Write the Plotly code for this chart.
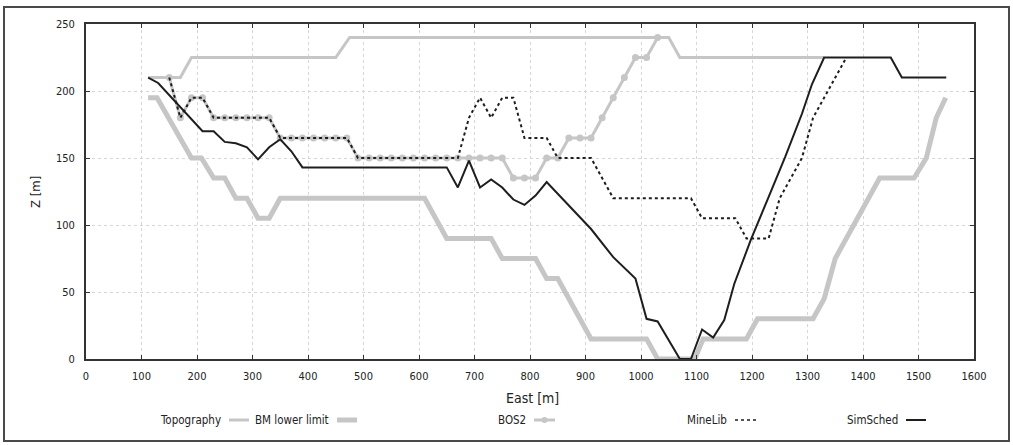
import plotly.graph_objects as go

# ---------------- data ----------------
topo_x = [112, 170, 190, 450, 475, 1050, 1070, 1330]
topo_z = [210, 210, 225, 225, 240, 240, 225, 225]

bm_x = [112, 128, 190, 208, 230, 250, 270, 290, 310, 330, 350, 610, 650, 730, 750, 810,
        830, 850, 910, 1010, 1030, 1097, 1112, 1190, 1210, 1310, 1330, 1350, 1430, 1492,
        1514, 1532, 1549]
bm_z = [195, 195, 150, 150, 135, 135, 120, 120, 105, 105, 120, 120, 90, 90, 75, 75,
        60, 60, 15, 15, 0, 0, 15, 15, 30, 30, 45, 75, 135, 135,
        150, 180, 195]

bos2_x = [150, 170, 190, 210, 230, 250, 270, 290, 310, 330, 350, 370, 390, 410, 430, 450,
          470, 490, 510, 530, 550, 570, 590, 610, 630, 650, 670, 690, 710, 730, 750,
          770, 790, 810, 830, 850, 870, 890, 910, 930, 950, 970, 990, 1010, 1030]
bos2_z = [210, 180, 195, 195, 180, 180, 180, 180, 180, 180, 165, 165, 165, 165, 165, 165,
          165, 150, 150, 150, 150, 150, 150, 150, 150, 150, 150, 150, 150, 150, 150,
          135, 135, 135, 150, 150, 165, 165, 165, 180, 195, 210, 225, 225, 240]

minelib_x = [150, 170, 190, 210, 230, 330, 350, 470, 490, 670, 690, 710, 730, 750, 770,
             790, 830, 850, 910, 950, 1090, 1110, 1170, 1190, 1230, 1250, 1270, 1290,
             1310, 1330, 1350, 1370]
minelib_z = [210, 180, 195, 195, 180, 180, 165, 165, 150, 150, 180, 195, 180, 195, 195,
             165, 165, 150, 150, 120, 120, 105, 105, 90, 90, 120, 135, 150,
             180, 195, 210, 225]

sim_x = [112, 130, 210, 230, 250, 270, 290, 310, 330, 350, 370, 390, 650, 670, 690, 710,
         730, 750, 770, 790, 810, 830, 910, 950, 990, 1010, 1030, 1070, 1090, 1110, 1130,
         1150, 1168, 1198, 1228, 1260, 1290, 1308, 1330, 1450, 1470, 1550]
sim_z = [210, 206, 170, 170, 162, 161, 158, 149, 158, 164, 155, 143, 143, 128, 148, 128,
         134, 128, 119, 115, 122, 132, 97, 76, 60, 30, 28, 0, 0, 22, 16,
         29, 56, 89, 119, 151, 183, 205, 225, 225, 210, 210]

x_ticks = list(range(0, 1601, 100))
y_ticks = [0, 50, 100, 150, 200, 250]

legend_names = ["Topography", "BM lower limit", "BOS2", "MineLib", "SimSched"]

# ---------------- styles ----------------
GRAY = "#c6c6c6"
DARK = "#1e1e1e"
FONT = "DejaVu Sans Condensed, DejaVu Sans"

fig = go.Figure()
fig.add_trace(go.Scatter(x=topo_x, y=topo_z, mode="lines", name=legend_names[0],
                         line=dict(color=GRAY, width=3)))
fig.add_trace(go.Scatter(x=bm_x, y=bm_z, mode="lines", name=legend_names[1],
                         line=dict(color=GRAY, width=5)))
fig.add_trace(go.Scatter(x=bos2_x, y=bos2_z, mode="lines+markers", name=legend_names[2],
                         line=dict(color=GRAY, width=3),
                         marker=dict(color=GRAY, size=7, symbol="circle")))
fig.add_trace(go.Scatter(x=minelib_x, y=minelib_z, mode="lines", name=legend_names[3],
                         line=dict(color=DARK, width=2, dash="dot")))
fig.add_trace(go.Scatter(x=sim_x, y=sim_z, mode="lines", name=legend_names[4],
                         line=dict(color=DARK, width=2)))

# plot-area geometry in pixels (for paper-coordinate conversion)
L, R, T, B = 86, 974, 24, 359
W, H = R - L, B - T


def px(xp):
    return (xp - L) / W


def py(yp):
    return (B - yp) / H


axis_common = dict(
    showline=True, linecolor="#333333", linewidth=2, mirror="ticks",
    ticks="inside", ticklen=4, tickcolor="#333333", tickwidth=1,
    showgrid=True, gridcolor="#d6d6d6", griddash="dot", gridwidth=1,
    zeroline=False, tickfont=dict(family=FONT, size=11, color="#222222"),
)

fig.update_xaxes(range=[0, 1600], tickvals=x_ticks, ticklabelstandoff=6, **axis_common)
fig.update_yaxes(range=[0, 250], tickvals=y_ticks, ticklabelstandoff=7, **axis_common)

shapes = []
annotations = []

# outer frame
shapes.append(dict(type="rect", xref="paper", yref="paper",
                   x0=px(4), x1=px(1009), y0=py(441), y1=py(7),
                   line=dict(color="#4a4a4a", width=2), layer="below"))

# axis titles
annotations.append(dict(text="East [m]", xref="paper", yref="paper", x=px(532), y=py(398),
                        showarrow=False, font=dict(family=FONT, size=14, color="#222222"),
                        xanchor="center", yanchor="middle"))
annotations.append(dict(text="Z [m]", xref="paper", yref="paper", x=px(35), y=py(192),
                        showarrow=False, textangle=-90,
                        font=dict(family=FONT, size=13, color="#222222"),
                        xanchor="center", yanchor="middle"))

# custom legend (text followed by line sample)
leg_y = 420
leg_items = [
    (legend_names[0], 223, 229, 249, dict(color=GRAY, width=3), False),
    (legend_names[1], 331, 337, 357, dict(color=GRAY, width=5), False),
    (legend_names[2], 528, 534, 555, dict(color=GRAY, width=3), True),
    (legend_names[3], 729, 735, 756, dict(color=DARK, width=1.5, dash="dot"), False),
    (legend_names[4], 900, 906, 926, dict(color=DARK, width=2), False),
]
for name, tx, lx0, lx1, ln, mk in leg_items:
    annotations.append(dict(text=name, xref="paper", yref="paper", x=px(tx), y=py(leg_y),
                            showarrow=False, xanchor="right", yanchor="middle",
                            font=dict(family=FONT, size=11.5, color="#222222")))
    shapes.append(dict(type="line", xref="paper", yref="paper",
                       x0=px(lx0), x1=px(lx1), y0=py(leg_y), y1=py(leg_y), line=ln))
    if mk:
        cx = (lx0 + lx1) / 2
        shapes.append(dict(type="circle", xref="paper", yref="paper",
                           x0=px(cx - 3), x1=px(cx + 3), y0=py(leg_y + 3), y1=py(leg_y - 3),
                           fillcolor=GRAY, line=dict(color=GRAY, width=0)))

fig.update_layout(
    width=1013, height=445,
    margin=dict(l=L, r=1013 - R, t=T, b=445 - B),
    paper_bgcolor="white", plot_bgcolor="white",
    showlegend=False,
    shapes=shapes, annotations=annotations,
    font=dict(family=FONT),
)

fig.write_html("out.html")
